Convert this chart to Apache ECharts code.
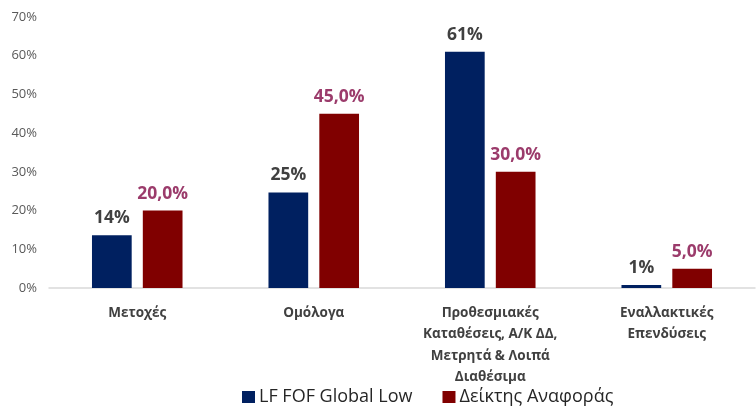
<!DOCTYPE html>
<html>
<head>
<meta charset="utf-8">
<script src="https://cdn.jsdelivr.net/npm/echarts@6/dist/echarts.min.js"></script>
<style>
  html, body { margin: 0; padding: 0; background: #fff; }
  #chart { width: 756px; height: 409px; }
</style>
</head>
<body>
<div id="chart"></div>
<script>
const categories = [
  'Μετοχές',
  'Ομόλογα',
  'Προθεσμιακές\nΚαταθέσεις, Α/Κ ΔΔ,\nΜετρητά & Λοιπά\nΔιαθέσιμα',
  'Εναλλακτικές\nΕπενδύσεις'
]
const fundValues = [13.6, 24.7, 61.0, 0.8]
const fundLabels = ['14%', '25%', '61%', '1%']
const benchValues = [20, 45, 30, 5]
const benchLabels = ['20,0%', '45,0%', '30,0%', '5,0%']
const yTicks = [0, 10, 20, 30, 40, 50, 60, 70]

const font = 'Open Sans'
const chart = echarts.init(document.getElementById('chart'))

chart.setOption({
  animation: false,
  grid: { left: 49, right: 1, top: 17, bottom: 121 },
  legend: {
    top: 388,
    left: 242,
    padding: 0,
    itemWidth: 13,
    itemHeight: 12,
    itemGap: 30,
    icon: 'rect',
    textStyle: { fontFamily: font, fontSize: 18, color: '#262626', padding: [0, 0, 0, -1] },
    data: ['LF FOF Global Low', 'Δείκτης Αναφοράς']
  },
  xAxis: {
    type: 'category',
    data: categories,
    axisLine: { lineStyle: { color: '#d9d9d9', width: 1.5 } },
    axisTick: { show: false },
    axisLabel: {
      interval: 0,
      margin: 14,
      fontFamily: font,
      fontSize: 13.5,
      fontWeight: 'bold',
      color: '#404040',
      lineHeight: 21.5
    }
  },
  yAxis: {
    type: 'value',
    min: 0,
    max: 70,
    interval: 10,
    splitLine: { show: false },
    axisLine: { show: false },
    axisTick: { show: false },
    axisLabel: {
      margin: 12,
      fontFamily: font,
      fontSize: 13,
      color: '#595959',
      formatter: (v) => (yTicks.includes(v) ? v + '%' : '')
    }
  },
  series: [
    {
      name: 'LF FOF Global Low',
      type: 'bar',
      data: fundValues,
      barWidth: '22.5%',
      barGap: '28%',
      itemStyle: { color: '#002060' },
      label: {
        show: true,
        position: 'top',
        distance: 8,
        fontFamily: font,
        fontSize: 17.5,
        fontWeight: 'bold',
        color: '#404040',
        formatter: (p) => fundLabels[p.dataIndex]
      }
    },
    {
      name: 'Δείκτης Αναφοράς',
      type: 'bar',
      data: benchValues,
      barWidth: '22.5%',
      itemStyle: { color: '#800000' },
      label: {
        show: true,
        position: 'top',
        distance: 8,
        fontFamily: font,
        fontSize: 17.5,
        fontWeight: 'bold',
        color: '#9b3b6b',
        formatter: (p) => benchLabels[p.dataIndex]
      }
    }
  ]
})
</script>
</body>
</html>
